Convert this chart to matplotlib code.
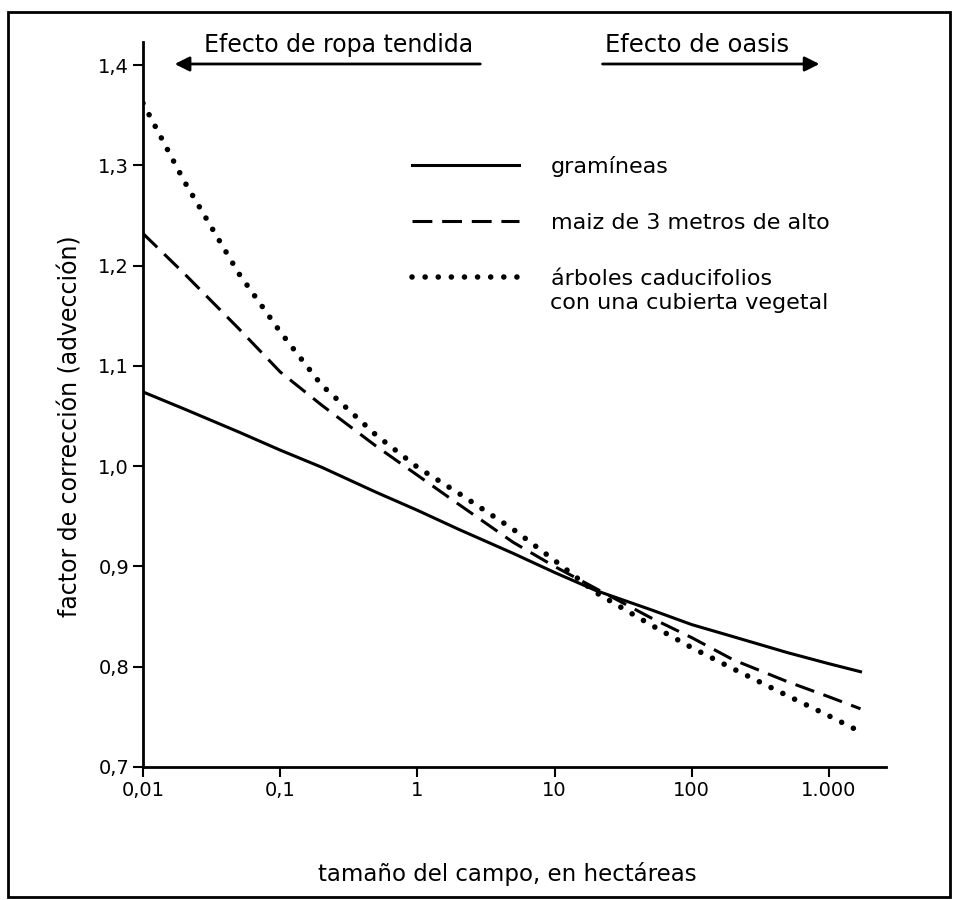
# -*- coding: utf-8 -*-
"""
平流修正系数与田块面积的关系曲线（对数横轴）
"""
import matplotlib
matplotlib.use('Agg')
import matplotlib.pyplot as plt
from matplotlib.patches import Rectangle, FancyArrowPatch

# ======================== 数据 ========================
# 田块面积 (公顷)
area_ha = [0.01, 0.02, 0.05, 0.1, 0.2, 0.5, 1, 2, 5, 10, 20, 50, 100, 200, 500, 1000, 1700]

# 各植被类型的修正系数
gramineas = [1.074, 1.057, 1.034, 1.016, 0.999, 0.974, 0.956, 0.937, 0.913, 0.894,
             0.876, 0.857, 0.842, 0.830, 0.814, 0.803, 0.795]
maiz = [1.232, 1.192, 1.137, 1.094, 1.061, 1.020, 0.991, 0.962, 0.924, 0.900,
        0.878, 0.849, 0.829, 0.807, 0.785, 0.770, 0.758]
arboles = [1.362, 1.284, 1.192, 1.134, 1.081, 1.031, 0.999, 0.973, 0.937, 0.906,
           0.874, 0.842, 0.819, 0.798, 0.771, 0.751, 0.735]

series_labels = ['gramíneas', 'maiz de 3 metros de alto', 'árboles caducifolios']
label_extra = 'con una cubierta vegetal'

x_ticks = [0.01, 0.1, 1, 10, 100, 1000]
x_tick_labels = ['0,01', '0,1', '1', '10', '100', '1.000']
y_ticks = [0.7, 0.8, 0.9, 1.0, 1.1, 1.2, 1.3, 1.4]
y_tick_labels = ['0,7', '0,8', '0,9', '1,0', '1,1', '1,2', '1,3', '1,4']

# ======================== 绘图 ========================
plt.rcParams['font.family'] = ['DejaVu Sans']

fig = plt.figure(figsize=(9.55, 9.0), dpi=100)
ax = fig.add_axes([0.1497, 0.1478, 0.778, 0.8056])

ax.plot(area_ha, gramineas, color='black', lw=2.2, label=series_labels[0])
ax.plot(area_ha, maiz, color='black', lw=2.2, linestyle=(0, (6.5, 3.2)),
        label=series_labels[1])
ax.plot(area_ha, arboles, color='black', lw=4.0, linestyle=(0, (0.01, 2.35)),
        dash_capstyle='round', label=series_labels[2])

ax.set_xscale('log')
ax.set_xlim(0.01, 2606)
ax.set_ylim(0.7, 1.423)
ax.set_xticks(x_ticks)
ax.set_xticklabels(x_tick_labels)
ax.minorticks_off()
ax.set_yticks(y_ticks)
ax.set_yticklabels(y_tick_labels)

for side in ['top', 'right']:
    ax.spines[side].set_visible(False)
for side in ['left', 'bottom']:
    ax.spines[side].set_linewidth(2.0)
ax.tick_params(axis='both', direction='out', length=7, width=1.5,
               labelsize=14, pad=3)

ax.set_ylabel('factor de corrección (advección)', fontsize=17)
ax.yaxis.set_label_coords(-0.082, 0.47)
ax.set_xlabel('tamaño del campo, en hectáreas', fontsize=16.5)
ax.xaxis.set_label_coords(0.491, -0.131)

leg = ax.legend(loc='upper left', bbox_to_anchor=(0.362, 0.843), frameon=False,
                fontsize=16, handlelength=4.8, handletextpad=1.45,
                labelspacing=1.62, borderpad=0, borderaxespad=0)
# 第三项图例的第二行文字
fig.text(550 / 955, 1 - 303 / 900, label_extra, fontsize=16, ha='left', va='center')

# 顶部效应说明与箭头
fig.text(0.355, 0.95, 'Efecto de ropa tendida', fontsize=17, ha='center', va='center')
fig.text(0.730, 0.95, 'Efecto de oasis', fontsize=17.5, ha='center', va='center')
for start, end in [((0.5058, 0.9289), (0.180, 0.9289)),
                   ((0.628, 0.9289), (0.861, 0.9289))]:
    fig.patches.append(FancyArrowPatch(start, end, transform=fig.transFigure,
                                       arrowstyle='-|>', mutation_scale=22,
                                       lw=2.0, color='black'))

# 外边框
fig.patches.append(Rectangle((0.0084, 0.0033), 0.986, 0.983, transform=fig.transFigure,
                             fill=False, lw=2.0, edgecolor='black'))

plt.savefig('out.png', dpi=100)
plt.close()
